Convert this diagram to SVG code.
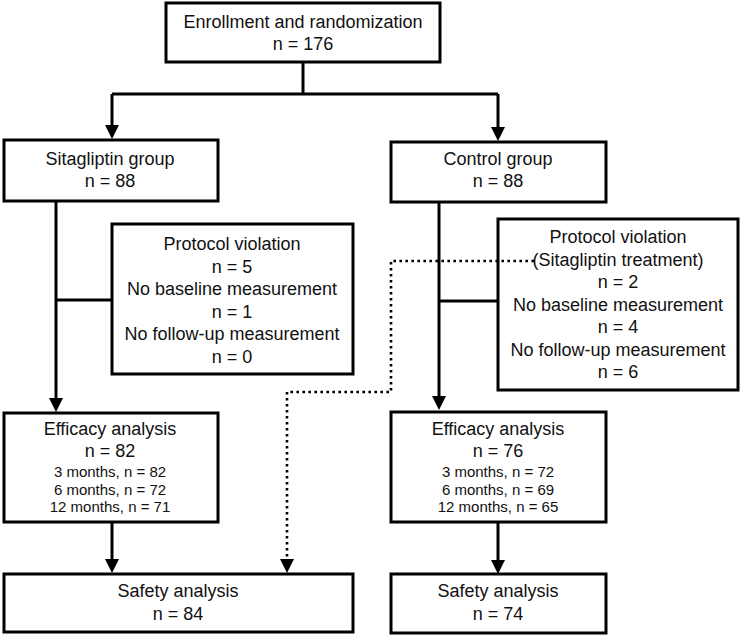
<svg xmlns="http://www.w3.org/2000/svg" width="742" height="637" viewBox="0 0 742 637">
<style>
.box{fill:#fff;stroke:#000;stroke-width:3}
.t{font-family:"Liberation Sans",Arial,sans-serif;font-size:18px;fill:#111;text-anchor:middle}
.s{font-size:15px}
.c{fill:none;stroke:#000;stroke-width:3}
.d{fill:none;stroke:#000;stroke-width:2.6;stroke-dasharray:2.6 3.4}
</style>
<defs>
<marker id="ah" viewBox="0 0 14 14" markerWidth="14" markerHeight="14" markerUnits="userSpaceOnUse" refX="6" refY="7" orient="auto">
<path d="M0,0 L14,7 L0,14 Z" fill="#000"/>
</marker>
</defs>
<rect width="742" height="637" fill="#fff"/>
<g id="connectors">
<path class="c" d="M303,62 V94 M112,94 H498"/>
<path class="c" d="M112,94 V131" marker-end="url(#ah)"/>
<path class="c" d="M498,94 V133" marker-end="url(#ah)"/>
<path class="c" d="M56,201 V404" marker-end="url(#ah)"/>
<path class="c" d="M56,300 H112"/>
<path class="c" d="M439,202 V402" marker-end="url(#ah)"/>
<path class="c" d="M439,301 H498"/>
<path class="c" d="M112,522 V565" marker-end="url(#ah)"/>
<path class="c" d="M498,522 V566" marker-end="url(#ah)"/>
<path class="d" d="M534,261 H391 V392 H287 V565"/>
<path d="M280,559 L294,559 L287,573 Z" fill="#000"/>
</g>
<g id="enroll">
<rect class="box" x="166" y="3" width="274" height="59"/>
<text class="t" x="303" y="28">Enrollment and randomization</text>
<text class="t" x="303" y="50">n = 176</text>
</g>
<g id="sitagliptin">
<rect class="box" x="4" y="140" width="214" height="61"/>
<text class="t" x="110" y="165">Sitagliptin group</text>
<text class="t" x="110" y="187">n = 88</text>
</g>
<g id="control">
<rect class="box" x="391" y="142" width="215" height="60"/>
<text class="t" x="498" y="165">Control group</text>
<text class="t" x="498" y="187">n = 88</text>
</g>
<g id="excl-left">
<rect class="box" x="112" y="224" width="241" height="150"/>
<text class="t" x="232" y="250">Protocol violation</text>
<text class="t" x="232" y="272.6">n = 5</text>
<text class="t" x="232" y="295.2">No baseline measurement</text>
<text class="t" x="232" y="317.8">n = 1</text>
<text class="t" x="232" y="340.4">No follow-up measurement</text>
<text class="t" x="232" y="363">n = 0</text>
</g>
<g id="excl-right">
<rect class="box" x="498" y="219" width="240" height="171"/>
<text class="t" x="618" y="243">Protocol violation</text>
<text class="t" x="618" y="265.5">(Sitagliptin treatment)</text>
<text class="t" x="618" y="288">n = 2</text>
<text class="t" x="618" y="310.5">No baseline measurement</text>
<text class="t" x="618" y="333">n = 4</text>
<text class="t" x="618" y="355.5">No follow-up measurement</text>
<text class="t" x="618" y="378">n = 6</text>
</g>
<path class="d" d="M534,261 H498"/>
<g id="eff-left">
<rect class="box" x="4" y="413" width="214" height="109"/>
<text class="t" x="110" y="435">Efficacy analysis</text>
<text class="t" x="110" y="457">n = 82</text>
<text class="t s" x="110" y="477">3 months, n = 82</text>
<text class="t s" x="110" y="494.5">6 months, n = 72</text>
<text class="t s" x="110" y="512">12 months, n = 71</text>
</g>
<g id="eff-right">
<rect class="box" x="391" y="412" width="215" height="110"/>
<text class="t" x="498" y="435">Efficacy analysis</text>
<text class="t" x="498" y="457">n = 76</text>
<text class="t s" x="498" y="477">3 months, n = 72</text>
<text class="t s" x="498" y="494.5">6 months, n = 69</text>
<text class="t s" x="498" y="512">12 months, n = 65</text>
</g>
<g id="safety-left">
<rect class="box" x="4" y="574" width="349" height="58"/>
<text class="t" x="178" y="597">Safety analysis</text>
<text class="t" x="178" y="620">n = 84</text>
</g>
<g id="safety-right">
<rect class="box" x="391" y="574" width="215" height="59"/>
<text class="t" x="498" y="597">Safety analysis</text>
<text class="t" x="498" y="620">n = 74</text>
</g>
</svg>
